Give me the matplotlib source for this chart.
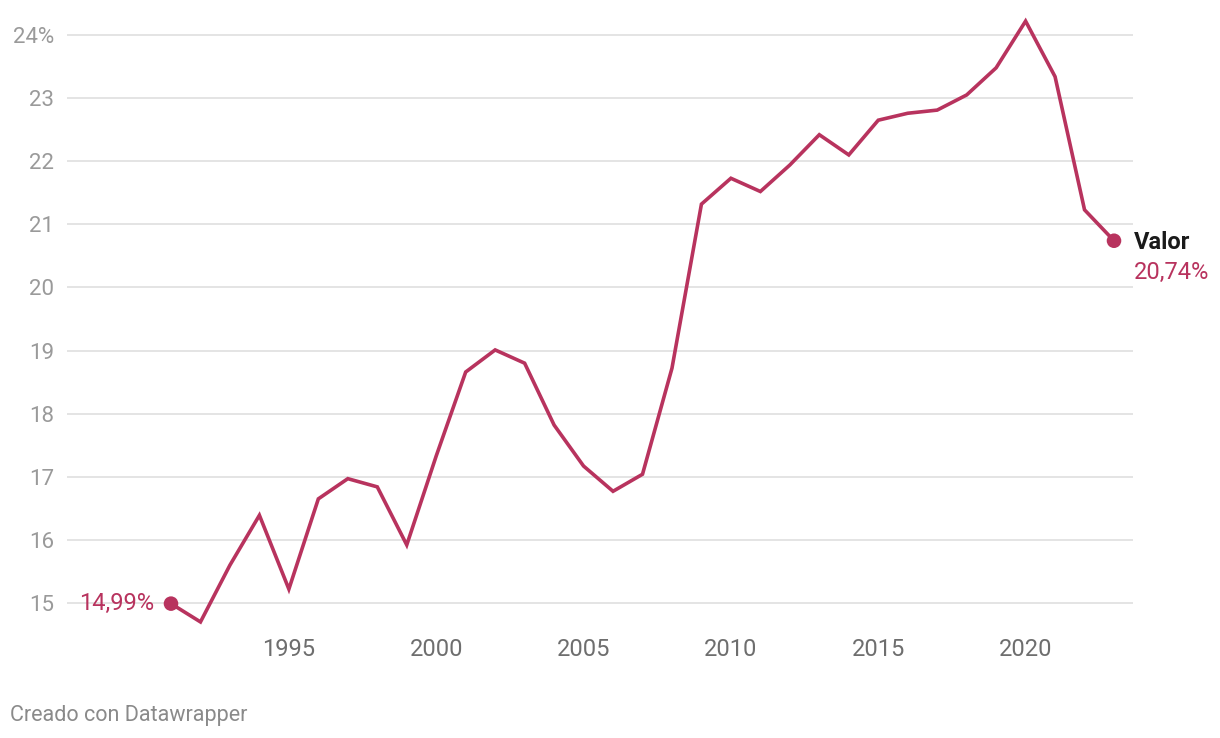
import matplotlib
matplotlib.use("Agg")
import matplotlib.pyplot as plt

years = list(range(1991, 2024))
valor = [14.99, 14.70, 15.60, 16.39, 15.22, 16.65, 16.97, 16.84, 15.92, 17.33,
         18.66, 19.01, 18.80, 17.82, 17.17, 16.77, 17.04, 18.72, 21.32, 21.73,
         21.52, 21.94, 22.42, 22.10, 22.65, 22.76, 22.81, 23.05, 23.48, 24.22,
         23.34, 21.23, 20.74]
y_ticks = [15, 16, 17, 18, 19, 20, 21, 22, 23, 24]
y_labels = ["15", "16", "17", "18", "19", "20", "21", "22", "23", "24%"]
x_ticks = [1995, 2000, 2005, 2010, 2015, 2020]

RED = "#b8335e"
plt.rcParams['font.family'] = ['Roboto', 'DejaVu Sans']

W, H = 1220, 738
fig = plt.figure(figsize=(W / 100, H / 100), dpi=100)
# axes box in pixels: x 67..1133, y 15..630
ax = fig.add_axes([67 / W, 1 - 630 / H, (1133 - 67) / W, (630 - 15) / H])

px_per_unit = (603 - 35) / 9
ax.set_ylim(15 - (630 - 603) / px_per_unit, 24 + (35 - 15) / px_per_unit)
px_per_year = (1114 - 171) / 32
ax.set_xlim(1991 - (171 - 67) / px_per_year, 2023 + (1133 - 1114) / px_per_year)

for t in y_ticks:
    ax.axhline(t, color="#e2e2e2", lw=1.3, zorder=1)

ax.plot(years, valor, color=RED, lw=2.6, zorder=3, solid_joinstyle="miter")
ax.scatter([years[0], years[-1]], [valor[0], valor[-1]], s=110, color=RED, zorder=4,
           edgecolors="none")

ax.set_yticks(y_ticks)
ax.set_yticklabels(y_labels)
ax.set_xticks(x_ticks)
ax.tick_params(axis="y", length=0, pad=9, labelsize=16, labelcolor="#9a9a9a")
ax.tick_params(axis="x", length=0, pad=6, labelsize=17, labelcolor="#6e6e6e")
for lbl in ax.get_yticklabels():
    lbl.set_horizontalalignment("right")
for s in ax.spines.values():
    s.set_visible(False)

ax.annotate("14,99%", (years[0], valor[0]), xytext=(-12, 0), textcoords="offset points",
            ha="right", va="center", fontsize=17, color=RED, zorder=5)
ax.annotate("Valor", (years[-1], valor[-1]), xytext=(14, -1.5), textcoords="offset points",
            ha="left", va="center", fontsize=17, color="#1a1a1a", fontweight="bold")
ax.annotate("20,74%", (years[-1], valor[-1]), xytext=(14, -23), textcoords="offset points",
            ha="left", va="center", fontsize=17, color=RED)

fig.text(10 / W, 1 - 716 / H, "Creado con Datawrapper", fontsize=15.5, color="#8a8a8a",
         ha="left", va="center")

fig.savefig("out.png", dpi=100, facecolor="white")
